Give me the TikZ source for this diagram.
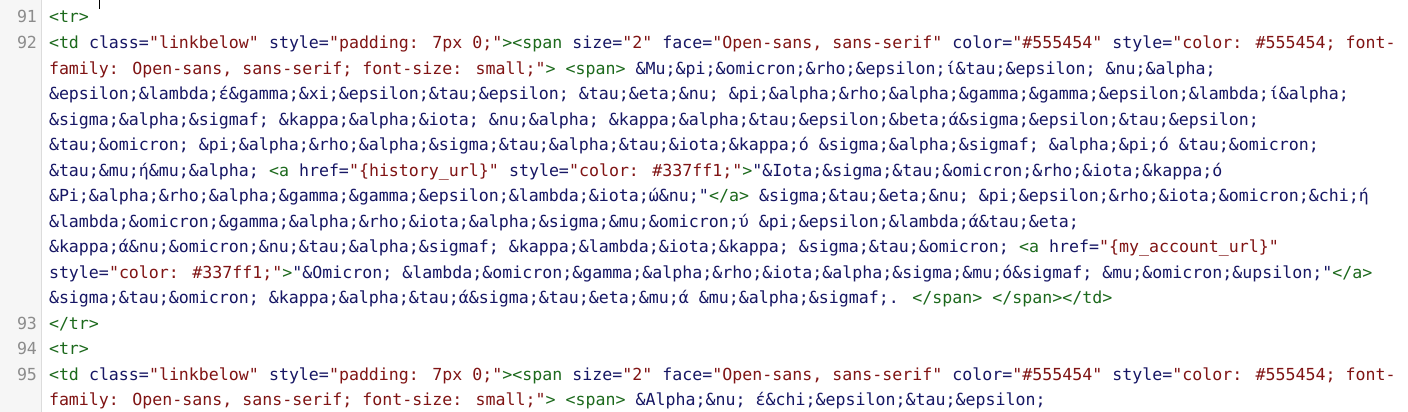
\documentclass[tikz,border=0pt]{standalone}
\usepackage{fontspec}
\newfontfamily\codefont{DejaVu Sans Mono}
\definecolor{tagc}{RGB}{28,105,28}
\definecolor{attc}{RGB}{22,22,100}
\definecolor{valc}{RGB}{128,20,20}
\definecolor{numc}{RGB}{140,140,140}
\definecolor{gutc}{RGB}{246,246,246}
\definecolor{gutline}{RGB}{220,220,220}
\newcommand{\cT}[1]{\textcolor{tagc}{#1}}
\newcommand{\cA}[1]{\textcolor{attc}{#1}}
\newcommand{\cV}[1]{\textcolor{valc}{#1}}
\tikzset{
  codeline/.style={anchor=base west,inner sep=0pt,outer sep=0pt,font=\codefont\fontsize{16.61}{20}\selectfont,text=attc},
  linenum/.style={anchor=base east,inner sep=0pt,outer sep=0pt,font=\codefont\fontsize{16.61}{20}\selectfont,text=numc}
}
\begin{document}
\begin{tikzpicture}[x=1pt,y=1pt]
\useasboundingbox (0,0) rectangle (1408,412);
\fill[white] (0,0) rectangle (1408,412);
\fill[gutc] (0,0) rectangle (41,412);
\draw[gutline,line width=1pt] (41.5,0) -- (41.5,412);
\coordinate (curtop) at (99.5,412);
\coordinate (curbot) at (99.5,403);
\draw[black,line width=1pt] (curtop) -- (curbot);
% line numbers
\node[linenum] (n91) at (37,389) {91};
\node[linenum] (n92) at (37,363.47) {92};
\node[linenum] (n93) at (37,82.64) {93};
\node[linenum] (n94) at (37,57.11) {94};
\node[linenum] (n95) at (37,31.58) {95};
% code
\node[codeline] (l1) at (49,389) {\cT{<tr>}};
\node[codeline] (l2) at (49,363.47) {\cT{<td} \cA{class=}\cV{"linkbelow"} \cA{style=}\cV{"padding: 7px 0;"}\cT{><span} \cA{size=}\cV{"2"} \cA{face=}\cV{"Open-sans, sans-serif"} \cA{color=}\cV{"\#555454"} \cA{style=}\cV{"color: \#555454; font-}};
\node[codeline] (l3) at (49,337.94) {\cV{family: Open-sans, sans-serif; font-size: small;"}\cT{>} \cT{<span>} \cA{\&Mu;\&pi;\&omicron;\&rho;\&epsilon;ί\&tau;\&epsilon; \&nu;\&alpha;}};
\node[codeline] (l4) at (49,312.41) {\cA{\&epsilon;\&lambda;έ\&gamma;\&xi;\&epsilon;\&tau;\&epsilon; \&tau;\&eta;\&nu; \&pi;\&alpha;\&rho;\&alpha;\&gamma;\&gamma;\&epsilon;\&lambda;ί\&alpha;}};
\node[codeline] (l5) at (49,286.88) {\cA{\&sigma;\&alpha;\&sigmaf; \&kappa;\&alpha;\&iota; \&nu;\&alpha; \&kappa;\&alpha;\&tau;\&epsilon;\&beta;ά\&sigma;\&epsilon;\&tau;\&epsilon;}};
\node[codeline] (l6) at (49,261.35) {\cA{\&tau;\&omicron; \&pi;\&alpha;\&rho;\&alpha;\&sigma;\&tau;\&alpha;\&tau;\&iota;\&kappa;ό \&sigma;\&alpha;\&sigmaf; \&alpha;\&pi;ό \&tau;\&omicron;}};
\node[codeline] (l7) at (49,235.82) {\cA{\&tau;\&mu;ή\&mu;\&alpha;} \cT{<a} \cA{href=}\cV{"\{history\_url\}"} \cA{style=}\cV{"color: \#337ff1;"}\cT{>}\cA{"\&Iota;\&sigma;\&tau;\&omicron;\&rho;\&iota;\&kappa;ό}};
\node[codeline] (l8) at (49,210.29) {\cA{\&Pi;\&alpha;\&rho;\&alpha;\&gamma;\&gamma;\&epsilon;\&lambda;\&iota;ώ\&nu;"}\cT{</a>} \cA{\&sigma;\&tau;\&eta;\&nu; \&pi;\&epsilon;\&rho;\&iota;\&omicron;\&chi;ή}};
\node[codeline] (l9) at (49,184.76) {\cA{\&lambda;\&omicron;\&gamma;\&alpha;\&rho;\&iota;\&alpha;\&sigma;\&mu;\&omicron;ύ \&pi;\&epsilon;\&lambda;ά\&tau;\&eta;}};
\node[codeline] (l10) at (49,159.23) {\cA{\&kappa;ά\&nu;\&omicron;\&nu;\&tau;\&alpha;\&sigmaf; \&kappa;\&lambda;\&iota;\&kappa; \&sigma;\&tau;\&omicron;} \cT{<a} \cA{href=}\cV{"\{my\_account\_url\}"}};
\node[codeline] (l11) at (49,133.70) {\cA{style=}\cV{"color: \#337ff1;"}\cT{>}\cA{"\&Omicron; \&lambda;\&omicron;\&gamma;\&alpha;\&rho;\&iota;\&alpha;\&sigma;\&mu;ό\&sigmaf; \&mu;\&omicron;\&upsilon;"}\cT{</a>}};
\node[codeline] (l12) at (49,108.17) {\cA{\&sigma;\&tau;\&omicron; \&kappa;\&alpha;\&tau;ά\&sigma;\&tau;\&eta;\&mu;ά \&mu;\&alpha;\&sigmaf;.} \cT{</span>} \cT{</span></td>}};
\node[codeline] (l13) at (49,82.64) {\cT{</tr>}};
\node[codeline] (l14) at (49,57.11) {\cT{<tr>}};
\node[codeline] (l15) at (49,31.58) {\cT{<td} \cA{class=}\cV{"linkbelow"} \cA{style=}\cV{"padding: 7px 0;"}\cT{><span} \cA{size=}\cV{"2"} \cA{face=}\cV{"Open-sans, sans-serif"} \cA{color=}\cV{"\#555454"} \cA{style=}\cV{"color: \#555454; font-}};
\node[codeline] (l16) at (49,6.05) {\cV{family: Open-sans, sans-serif; font-size: small;"}\cT{>} \cT{<span>} \cA{\&Alpha;\&nu; έ\&chi;\&epsilon;\&tau;\&epsilon;}};
\end{tikzpicture}
\end{document}
